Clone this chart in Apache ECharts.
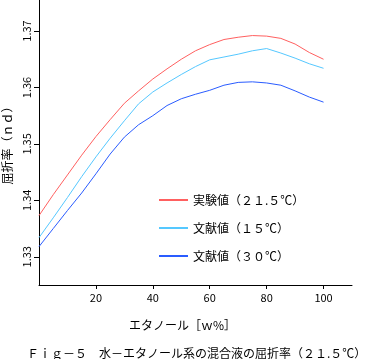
<!DOCTYPE html>
<html><head><meta charset="utf-8">
<script src="https://cdn.jsdelivr.net/npm/echarts@6/dist/echarts.min.js"></script>
<style>html,body{margin:0;padding:0;background:#fff}#c{width:371px;height:359px}</style>
</head><body><div id="c"></div>
<script>
const xValues = [0,5,10,15,20,25,30,35,40,45,50,55,60,65,70,75,80,85,90,95,100];
const expRed = [1.3373,1.3410,1.3445,1.3480,1.3513,1.3543,1.3572,1.3594,1.3615,1.3633,1.3650,1.3665,1.3676,1.3685,1.3689,1.3692,1.3691,1.3687,1.3677,1.3662,1.3650];
const lit15 = [1.3334,1.3369,1.3405,1.3442,1.3477,1.3510,1.3541,1.3571,1.3592,1.3608,1.3623,1.3637,1.3649,1.3654,1.3659,1.3665,1.3669,1.3661,1.3652,1.3642,1.3634];
const lit30 = [1.3318,1.3350,1.3382,1.3413,1.3447,1.3482,1.3512,1.3534,1.3550,1.3568,1.3580,1.3588,1.3595,1.3604,1.3609,1.3610,1.3608,1.3604,1.3594,1.3583,1.3574];
const seriesNames = ['実験値（２１.５℃）','文献値（１５℃）','文献値（３０℃）'];
const xTicks = [20,40,60,80,100];
const yTicks = [1.33,1.34,1.35,1.36,1.37];
const xName = 'エタノール［ｗ%］';
const yName = '屈折率（ｎｄ）';
const caption = 'Ｆｉｇ－５　水－エタノール系の混合液の屈折率（２１.５℃）';

const FONT = '"Noto Sans CJK JP", sans-serif';
const colors = ['#ff6060','#55c8ff','#2a5cff'];
const pair = arr => xValues.map((x,i)=>[x,arr[i]]);
const chart = echarts.init(document.getElementById('c'));
chart.setOption({
  animation:false,
  backgroundColor:'#fff',
  textStyle:{fontFamily:FONT,color:'#000'},
  title:[
    {text:caption,left:22,top:342,textStyle:{fontSize:12,fontWeight:'normal',color:'#000',fontFamily:FONT}},
    {text:xName,left:124,top:314,textStyle:{fontSize:12,fontWeight:'normal',color:'#000',fontFamily:FONT}}
  ],
  grid:{left:39,top:0,right:19,bottom:74,containLabel:false,outerBoundsMode:'none'},
  legend:{
    orient:'vertical',left:153,top:189,itemWidth:29,itemHeight:14,itemGap:16,
    itemStyle:{opacity:0,borderWidth:0},
    textStyle:{fontSize:12,color:'#000',fontFamily:FONT},
    data:seriesNames
  },
  xAxis:{
    type:'value',min:0,max:110,
    axisLine:{lineStyle:{color:'#000',width:1}},
    axisTick:{show:true,length:4,customValues:xTicks,lineStyle:{color:'#000'}},
    axisLabel:{customValues:xTicks,color:'#000',fontSize:11,margin:7,fontFamily:FONT},
    splitLine:{show:false}
  },
  yAxis:{
    type:'value',min:1.325,max:1.3755,
    name:yName,nameLocation:'middle',nameGap:23,nameRotate:90,
    nameTextStyle:{fontSize:12,color:'#000',fontFamily:FONT},
    axisLine:{show:true,lineStyle:{color:'#000',width:1}},
    axisTick:{show:true,length:5,customValues:yTicks,lineStyle:{color:'#000'}},
    axisLabel:{customValues:yTicks,rotate:90,color:'#000',fontSize:11,margin:7,fontFamily:FONT,
      formatter:v=>v.toFixed(2)},
    splitLine:{show:false}
  },
  series:[
    {name:seriesNames[0],type:'line',data:pair(expRed),symbol:'none',lineStyle:{color:colors[0],width:1},itemStyle:{color:colors[0]}},
    {name:seriesNames[1],type:'line',data:pair(lit15),symbol:'none',lineStyle:{color:colors[1],width:1},itemStyle:{color:colors[1]}},
    {name:seriesNames[2],type:'line',data:pair(lit30),symbol:'none',lineStyle:{color:colors[2],width:1},itemStyle:{color:colors[2]}}
  ]
});
</script></body></html>
